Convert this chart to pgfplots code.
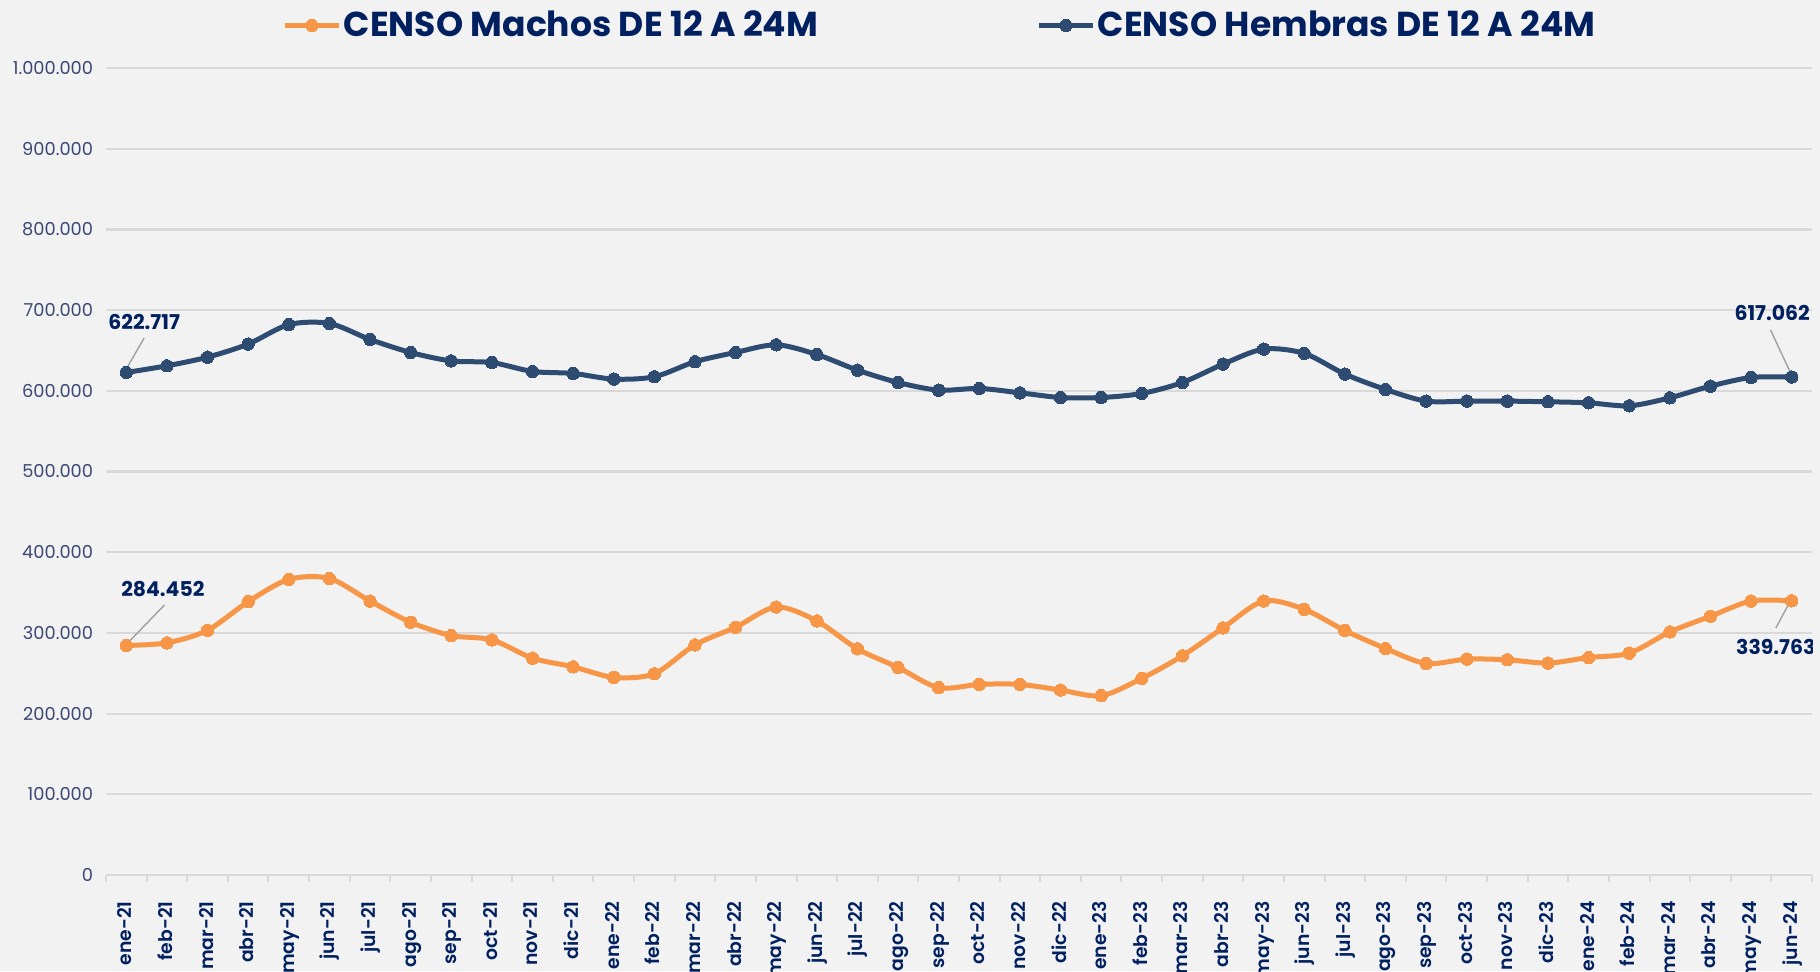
\documentclass[border=0pt]{standalone}
\usepackage{fontspec}
\setmainfont{Poppins}
\newfontfamily\popsemi{Poppins SemiBold}
\usepackage{pgfplots}
\usepackage{pgfplotstable}
\pgfplotsset{compat=1.18}
\definecolor{bgc}{HTML}{F2F2F2}
\definecolor{gridc}{HTML}{D9D9D9}
\definecolor{orangeS}{HTML}{F79646}
\definecolor{blueS}{RGB}{46,76,114}
\definecolor{navy}{HTML}{002060}
\definecolor{ytickc}{RGB}{60,72,115}
\definecolor{leader}{RGB}{160,160,160}

\pgfplotstableread{
x machos hembras
0 284452 622717
1 287700 631000
2 303300 641700
3 338700 657900
4 366300 682000
5 367500 683500
6 339500 663600
7 313200 647500
8 296700 637000
9 291400 635000
10 268700 624000
11 258000 621500
12 244900 614500
13 249400 617400
14 285200 636000
15 307000 647500
16 332100 657000
17 314800 645000
18 280200 625600
19 257200 610300
20 232100 600800
21 236200 602900
22 236200 597500
23 229200 591700
24 222200 591700
25 243600 596700
26 271600 610300
27 306200 633000
28 339500 651700
29 329200 646300
30 302900 620700
31 280700 601700
32 262100 587200
33 267500 587200
34 266700 587200
35 262600 586400
36 269500 585100
37 274900 581400
38 301200 591300
39 320600 605800
40 339500 616500
41 339763 617062
}\datatable

\begin{document}
\begin{tikzpicture}
\fill[bgc] (-53pt,-48pt) rectangle (857pt,437.5pt);
\path[use as bounding box] (-53pt,-48pt) rectangle (857pt,437.5pt);
\begin{axis}[
  at={(0,0)}, anchor=south west,
  scale only axis, width=853pt, height=403.5pt,
  xmin=-0.5, xmax=41.5, ymin=0, ymax=1000000,
  scaled y ticks=false,
  axis line style={draw=none},
  xtick={0,...,41},
  xticklabels={ene-21,feb-21,mar-21,abr-21,may-21,jun-21,jul-21,ago-21,sep-21,oct-21,nov-21,dic-21,ene-22,feb-22,mar-22,abr-22,may-22,jun-22,jul-22,ago-22,sep-22,oct-22,nov-22,dic-22,ene-23,feb-23,mar-23,abr-23,may-23,jun-23,jul-23,ago-23,sep-23,oct-23,nov-23,dic-23,ene-24,feb-24,mar-24,abr-24,may-24,jun-24},
  major x tick style={draw=none},
  minor xtick={-0.5,0.5,...,41.5},
  minor x tick style={draw=gridc, line width=1pt},
  minor tick length=3.5pt,
  tick align=outside,
  xtick pos=bottom,
  xticklabel style={rotate=90, anchor=mid east, inner sep=0pt, font=\popsemi\fontsize{9.4}{11}\selectfont, text=navy},
  xticklabel shift=8.7pt,
  ytick={0,100000,200000,300000,400000,500000,600000,700000,800000,900000,1000000},
  yticklabels={0,100.000,200.000,300.000,400.000,500.000,600.000,700.000,800.000,900.000,1.000.000},
  ytick style={draw=none},
  yticklabel style={font=\fontsize{8.9}{10}\selectfont, text=ytickc, inner sep=0pt},
  yticklabel shift=2pt,
  ymajorgrids,
  grid style={draw=gridc, line width=1.1pt},
  legend columns=2,
  legend style={at={(0.489,1.0527)}, anchor=center, draw=none, fill=none,
    font=\bfseries\fontsize{17.3}{20}\selectfont, text=navy,
    nodes={inner xsep=1.2pt},
    /tikz/every even column/.append style={column sep=108pt}},
  legend image code/.code={\draw[mark repeat=2,mark phase=2,#1] plot coordinates {(0pt,0pt)(13.5pt,0pt)(27pt,0pt)};},
]
\addplot[orangeS, line width=2.5pt, smooth, tension=0.5, mark=*, mark size=3.1pt, mark options={fill=orangeS, draw=orangeS, line width=0pt}] table[x=x, y=machos] {\datatable};
\addlegendentry{CENSO Machos DE 12 A 24M}
\addplot[blueS, line width=2.5pt, smooth, tension=0.5, mark=*, mark size=3.1pt, mark options={fill=blueS, draw=blueS, line width=0pt}] table[x=x, y=hembras] {\datatable};
\addlegendentry{CENSO Hembras DE 12 A 24M}

\draw[leader, line width=0.7pt] (axis cs:0.44,665400) -- (axis cs:0.01,628000);
\draw[leader, line width=0.7pt] (axis cs:0.94,334600) -- (axis cs:0.01,286200);
\draw[leader, line width=0.7pt] (axis cs:40.48,675300) -- (axis cs:41.02,617100);
\draw[leader, line width=0.7pt] (axis cs:40.61,306100) -- (axis cs:40.98,340800);
\node[font=\bfseries\fontsize{10.2}{12}\selectfont, text=navy] at (axis cs:0.44,685900) {622.717};
\node[font=\bfseries\fontsize{10.2}{12}\selectfont, text=navy] at (axis cs:0.90,354400) {284.452};
\node[font=\bfseries\fontsize{10.2}{12}\selectfont, text=navy] at (axis cs:40.52,696400) {617.062};
\node[font=\bfseries\fontsize{10.2}{12}\selectfont, text=navy] at (axis cs:40.61,282900) {339.763};
\end{axis}
\end{tikzpicture}
\end{document}
